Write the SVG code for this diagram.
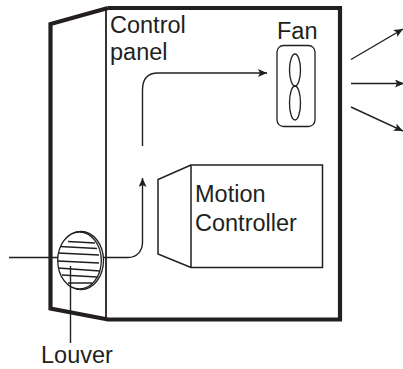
<svg xmlns="http://www.w3.org/2000/svg" width="403" height="369" viewBox="0 0 403 369">
<style>
.t{font-family:"Liberation Sans",Arial,sans-serif;font-size:23.5px;fill:#231f20}
.k{fill:none;stroke:#231f20;stroke-width:4.2}
.m{fill:none;stroke:#231f20;stroke-width:1.8}
.n{fill:none;stroke:#231f20;stroke-width:1.3}
.c{fill:none;stroke:#231f20;stroke-width:1.4}
</style>
<defs>
<marker id="a" markerUnits="userSpaceOnUse" markerWidth="10" markerHeight="8" refX="9" refY="4" orient="auto"><path d="M0 0L9 4L0 8L2 4Z" fill="#231f20"/></marker>
</defs>
<rect width="403" height="369" fill="#fff"/>
<g id="cabinet">
<path class="k" d="M108 8L50.500 24V308.500L108 319.500H340V8H108"/>
<path class="m" d="M106 8V320"/>
</g>
<g id="control-panel-label"><text class="t" x="110" y="33">Control</text><text class="t" x="110" y="60">panel</text></g>
<g id="fan">
<rect class="n" x="277" y="45.500" width="38" height="81" rx="6.500"/>
<ellipse class="n" cx="295" cy="70" rx="5.500" ry="16"/>
<ellipse class="n" cx="295" cy="103" rx="5.500" ry="17"/>
<text class="t" x="277" y="39">Fan</text>
</g>
<g id="motion-controller">
<path class="n" style="stroke-width:1.500" d="M191 165H322.500V267.500H191ZM191 165L158 179.500V254L191 267.500"/>
<text class="t" x="195" y="202">Motion</text>
<text class="t" x="195" y="231">Controller</text>
</g>
<g id="louver">
<ellipse cx="81" cy="260.500" rx="22.500" ry="29" fill="#fff" stroke="#231f20" stroke-width="1.300"/>
<ellipse cx="79.500" cy="260.500" rx="21.800" ry="28.500" fill="#fff" stroke="#231f20" stroke-width="1.300"/>
<path class="n" d="M68 241.500L95 243M60 246.500L97 248.500M58 253L99 255M58 261L99 263M58 268L100 271M62 275L97 277M68 283L92 283"/>
<text class="t" x="41" y="363">Louver</text>
</g>
<g id="connectors">
<path class="c" d="M9 257.500H58"/>
<path class="c" d="M103 257.500H128C137 257.500 142.500 251 142.500 242V178" marker-end="url(#a)"/>
<path class="c" d="M142.500 146V90C142.500 79 148 73 158 73H267" marker-end="url(#a)"/>
<path class="c" d="M351 59.500L403 29" marker-end="url(#a)"/>
<path class="c" d="M351 83.500H404" marker-end="url(#a)"/>
<path class="c" d="M351 107L403 131" marker-end="url(#a)"/>
<path class="c" d="M70.500 266V343"/>
</g>
</svg>
